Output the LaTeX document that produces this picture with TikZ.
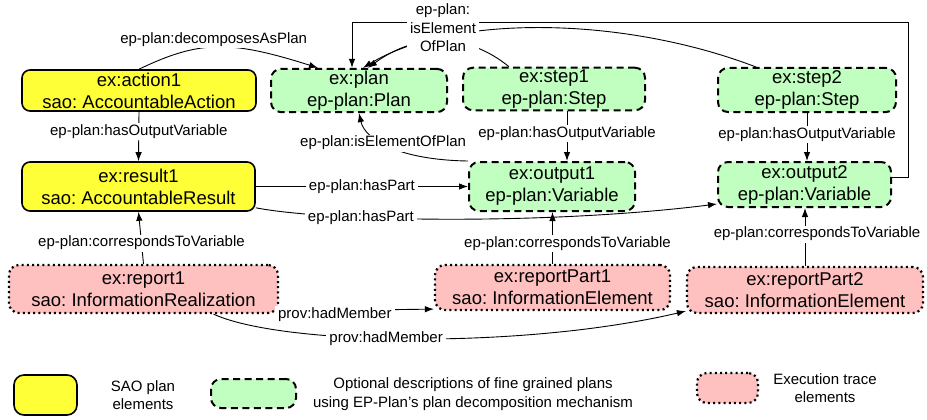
\documentclass[tikz,border=0pt]{standalone}
\usepackage{fontspec}
\setmainfont{Liberation Sans}
\usetikzlibrary{arrows.meta}
\definecolor{saoyellow}{RGB}{255,255,56}
\definecolor{plangreen}{RGB}{192,255,192}
\definecolor{tracepink}{RGB}{255,192,192}
\frenchspacing

\begin{document}
\begin{tikzpicture}[x=1pt, y=-1pt, >={Latex[length=9pt,width=6.5pt]},
    every node/.style={font=\fontsize{18.5}{22}\selectfont, align=center, inner sep=2pt},
    saobox/.style={draw, line width=1.6pt, rounded corners=8pt, fill=saoyellow, minimum height=41pt},
    planbox/.style={draw, line width=2pt, dash pattern=on 7pt off 4.5pt, rounded corners=10pt, fill=plangreen, minimum height=41pt},
    tracebox/.style={draw, line width=2.2pt, dash pattern=on 2pt off 3.2pt, rounded corners=10pt, fill=tracepink, minimum height=47pt},
    lbl/.style={font=\fontsize{15}{18.5}\selectfont, fill=white, inner xsep=3pt, inner ysep=1.5pt},
    conn/.style={->, line width=0.9pt}]
    \useasboundingbox (0,0) rectangle (927,420);

    \node[saobox, minimum width=234pt] (action1) at (139,90.5) {ex:action1\\sao: AccountableAction};
    \node[planbox, minimum width=176pt] (plan) at (359,90.5) {ex:plan\\ep-plan:Plan};
    \node[planbox, minimum width=182pt, minimum height=42pt] (step1) at (554,89) {ex:step1\\ep-plan:Step};
    \node[planbox, minimum width=178pt, minimum height=44pt] (step2) at (807,90) {ex:step2\\ep-plan:Step};
    \node[saobox, minimum width=233pt, minimum height=49pt] (result1) at (138.5,186.5) {ex:result1\\sao: AccountableResult};
    \node[planbox, minimum width=166pt, minimum height=49pt] (output1) at (552,186.5) {ex:output1\\ep-plan:Variable};
    \node[planbox, minimum width=173pt, minimum height=45pt] (output2) at (804.5,184.5) {ex:output2\\ep-plan:Variable};
    \node[tracebox, minimum width=269pt, minimum height=48pt] (report1) at (143.5,289) {ex:report1\\sao: InformationRealization};
    \node[tracebox, minimum width=235pt, minimum height=45pt] (part1) at (552.5,287.5) {ex:reportPart1\\sao: InformationElement};
    \node[tracebox, minimum width=236pt, minimum height=46pt] (part2) at (805,290) {ex:reportPart2\\sao: InformationElement};

    \coordinate (bendR) at (908,22);
    \coordinate (bendL) at (352,22);

    \draw[conn] (action1.north) .. controls (200,40) and (230,40) .. ([xshift=48pt]plan.north west)
        node[lbl, pos=0.47, yshift=8pt] {ep-plan:decomposesAsPlan};
    \draw[conn] ([xshift=47pt]step1.north west) .. controls (470,35) and (420,30) .. ([xshift=9pt]plan.north);
    \draw[conn] ([xshift=39pt]step2.north west) .. controls (620,15) and (450,15) .. ([xshift=4pt]plan.north);
    \draw[conn] ([yshift=7pt]output2.east) -| (bendR) -- (bendL) -- ([xshift=-7pt]plan.north);
    \node[lbl] (iselem) at (443,28) {ep-plan:\\isElement\\OfPlan};
    \draw[conn] (output1.north west) .. controls (400,160) and (365,140) .. (plan.south)
        node[lbl, pos=0.57] {ep-plan:isElementOfPlan};

    \draw[conn] (action1.south) -- (result1.north) node[lbl, pos=0.4] {ep-plan:hasOutputVariable};
    \draw[conn] ([xshift=13pt]step1.south) -- ([xshift=15pt]output1.north) node[lbl, pos=0.45] {ep-plan:hasOutputVariable};
    \draw[conn] (step2.south) -- (step2.south |- output2.north) node[lbl, pos=0.45] {ep-plan:hasOutputVariable};

    \draw[conn] (result1.east) -- (output1.west) node[lbl, midway] {ep-plan:hasPart};
    \draw[conn] ([yshift=4pt]result1.south east) .. controls (330,222) and (550,225) .. ([yshift=4pt]output2.south west)
        node[lbl, pos=0.31] {ep-plan:hasPart};

    \draw[conn] (report1.north) -- (result1.south) node[lbl, pos=0.4] {ep-plan:correspondsToVariable};
    \draw[conn] (part1.north) -- (part1.north |- output1.south) node[lbl, pos=0.4, xshift=15pt] {ep-plan:correspondsToVariable};
    \draw[conn] (part2.north) -- (part2.north |- output2.south) node[lbl, pos=0.55, xshift=12pt] {ep-plan:correspondsToVariable};

    \draw[conn] ([yshift=3pt]report1.south east) -- ([yshift=2pt]part1.south west)
        node[lbl, pos=0.36, yshift=-4pt] {prov:hadMember};
    \draw[conn] ([xshift=70pt]report1.south) .. controls (280,345) and (520,350) .. ([yshift=3pt]part2.south west)
        node[lbl, pos=0.45] {prov:hadMember};

    \node[saobox, minimum width=63pt, minimum height=40pt, rounded corners=10pt] (legsao) at (45.5,395) {};
    \node[lbl] (legsaotxt) at (143,395) {SAO plan\\elements};
    \node[planbox, minimum width=85pt, minimum height=29pt] (legplan) at (253.5,393.5) {};
    \node[lbl] (legplantxt) at (473,394) {Optional descriptions of fine grained plans\\using EP-Plan’s plan decomposition mechanism};
    \node[tracebox, minimum width=61pt, minimum height=30pt] (legtrace) at (727.5,388) {};
    \node[lbl] (legtracetxt) at (825,388) {Execution trace\\elements};
\end{tikzpicture}
\end{document}
